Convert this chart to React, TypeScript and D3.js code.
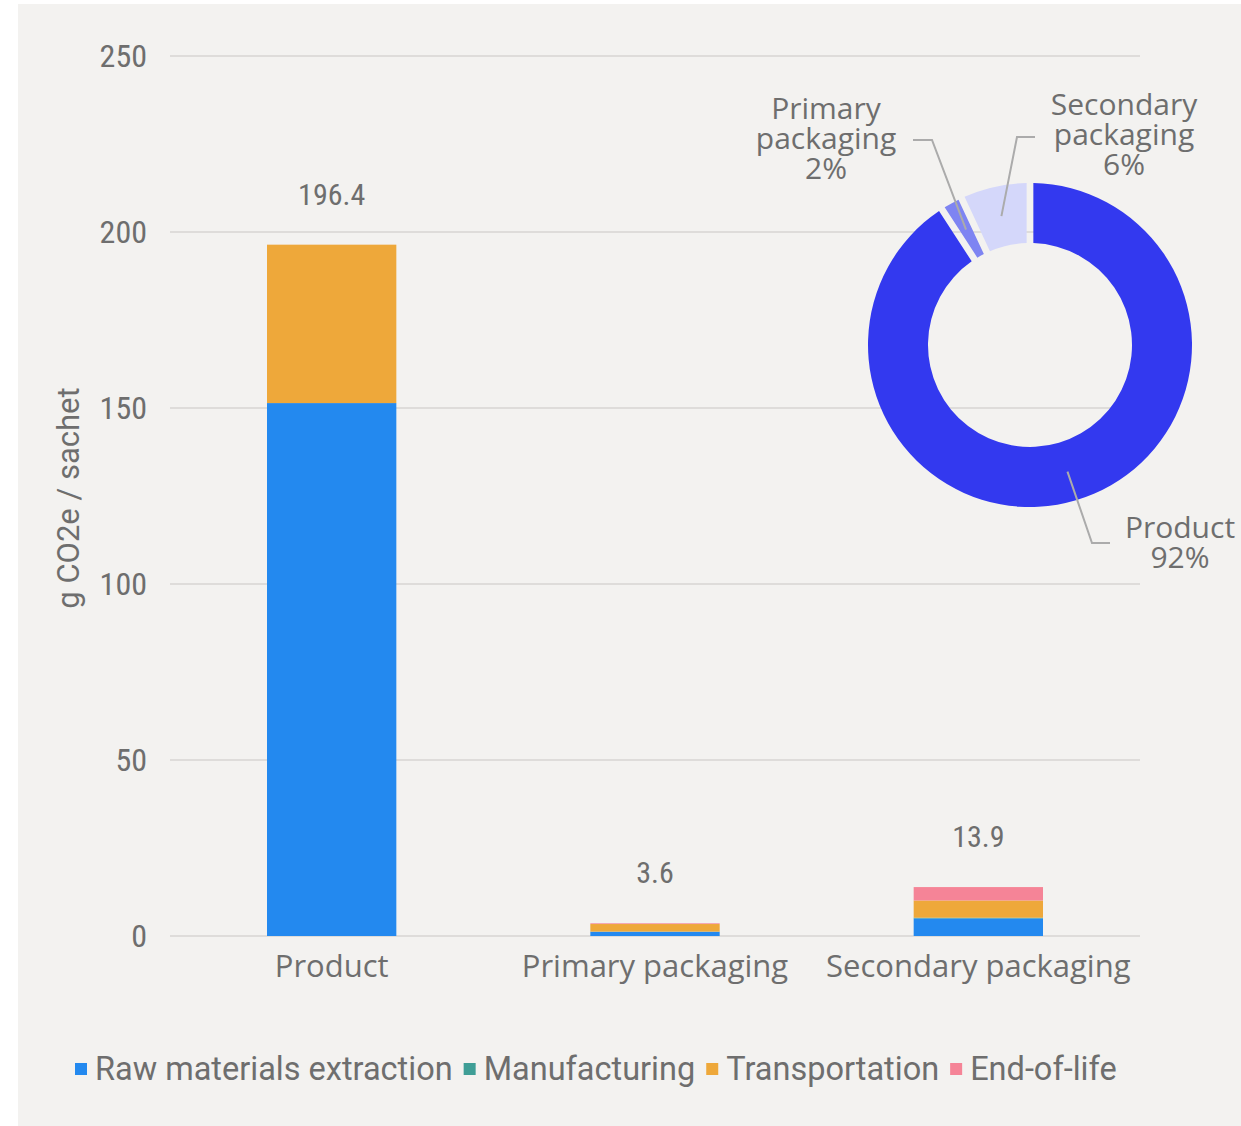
import React, { useEffect, useRef } from "react";
import * as d3 from "d3";

const categories = ["Product", "Primary packaging", "Secondary packaging"];
const stages = ["Raw materials extraction", "Manufacturing", "Transportation", "End-of-life"];
const rawMaterials = [151.4, 1.2, 5.0];
const manufacturing = [0, 0.05, 0.2];
const transportation = [45.0, 2.15, 4.9];
const endOfLife = [0, 0.2, 3.8];
const totals = [196.4, 3.6, 13.9];
const yTicks = [0, 50, 100, 150, 200, 250];
const donutLabels = [["Product"], ["Primary", "packaging"], ["Secondary", "packaging"]];

const stageColors = ["#2389EF", "#3F9E96", "#EEA83A", "#F58497"];
const donutColors = ["#3339EF", "#7E84F2", "#D4D7FA"];
const BG = "#F3F2F0";
const TEXT = "#6E6E6E";
const NARROW = "'Roboto Condensed', 'Liberation Sans Narrow', 'Arial Narrow', Roboto, sans-serif";
const GEO = "'Open Sans', Lato, sans-serif";

export default function App() {
  const ref = useRef<SVGSVGElement>(null);
  useEffect(() => {
    const svg = d3.select(ref.current);
    svg.selectAll("*").remove();
    const W = 1241, H = 1126;
    svg.append("rect").attr("x", 0).attr("y", 0).attr("width", W).attr("height", H).attr("fill", "#ffffff");
    svg.append("rect").attr("x", 18).attr("y", 4).attr("width", W - 18).attr("height", H - 4).attr("fill", BG);

    const x = d3.scaleBand().domain(categories).range([170, 1140]).paddingInner(0.6).paddingOuter(0.3);
    const y = d3.scaleLinear().domain([0, 250]).range([936, 56]);

    // grid
    const g = svg.append("g");
    g.selectAll("line.grid").data(yTicks).join("line")
      .attr("x1", 170).attr("x2", 1140)
      .attr("y1", (d) => y(d)).attr("y2", (d) => y(d))
      .attr("stroke", "#DEDCDA").attr("stroke-width", 2);
    g.selectAll("text.tick").data(yTicks).join("text")
      .attr("x", 147).attr("y", (d) => y(d))
      .attr("text-anchor", "end").attr("dominant-baseline", "central")
      .attr("font-family", NARROW).attr("font-size", 32).attr("fill", TEXT)
      .text((d) => String(d));

    // axis title
    svg.append("text")
      .attr("transform", `translate(79,${y(125) + 2}) rotate(-90)`)
      .attr("text-anchor", "middle")
      .attr("font-family", "Roboto, sans-serif").attr("font-size", 31).attr("fill", TEXT)
      .text("g CO2e / sachet");

    // stacked bars
    const rows = categories.map((c, i) => ({
      cat: c,
      [stages[0]]: rawMaterials[i],
      [stages[1]]: manufacturing[i],
      [stages[2]]: transportation[i],
      [stages[3]]: endOfLife[i],
    }));
    const stack = d3.stack<any>().keys(stages)(rows);
    stack.forEach((layer, li) => {
      svg.append("g").selectAll("rect").data(layer).join("rect")
        .attr("x", (d: any) => x(d.data.cat)!)
        .attr("width", x.bandwidth())
        .attr("y", (d: any) => y(d[1]))
        .attr("height", (d: any) => Math.max(0, y(d[0]) - y(d[1])))
        .attr("fill", stageColors[li]);
    });

    // totals labels
    svg.append("g").selectAll("text").data(totals).join("text")
      .attr("x", (d, i) => x(categories[i])! + x.bandwidth() / 2)
      .attr("y", (d) => y(d) - 40)
      .attr("text-anchor", "middle")
      .attr("font-family", NARROW).attr("font-size", 30).attr("fill", TEXT)
      .text((d) => d.toFixed(1));

    // category labels
    svg.append("g").selectAll("text").data(categories).join("text")
      .attr("x", (d) => x(d)! + x.bandwidth() / 2)
      .attr("y", 977)
      .attr("text-anchor", "middle")
      .attr("font-family", GEO).attr("font-size", 31).attr("fill", TEXT)
      .text((d) => d);

    // legend
    const leg = svg.append("g");
    let lx = 75;
    stages.forEach((s, i) => {
      leg.append("rect").attr("x", lx).attr("y", 1063).attr("width", 12).attr("height", 12).attr("fill", stageColors[i]);
      const t = leg.append("text").attr("x", lx + 20).attr("y", 1069)
        .attr("dominant-baseline", "central")
        .attr("font-family", "Roboto, sans-serif").attr("font-size", 32.5).attr("fill", TEXT)
        .text(s);
      const w = (t.node() as SVGTextElement).getComputedTextLength();
      lx = lx + 20 + w + 11;
    });

    // donut
    const cx = 1030, cy = 345, rO = 162, rI = 102;
    const pie = d3.pie<number>().sort(null).value((d) => d).padAngle(0.035);
    const arcs = pie(totals);
    const arc = d3.arc<d3.PieArcDatum<number>>().innerRadius(rI).outerRadius(rO);
    const dg = svg.append("g").attr("transform", `translate(${cx},${cy})`);
    dg.selectAll("path").data(arcs).join("path")
      .attr("d", arc as any).attr("fill", (d, i) => donutColors[i]);

    const sum = d3.sum(totals);
    const labelPos = [
      { tx: 150, ty: 193, ex1: 80, ex2: 62, ey: 198 },
      { tx: -204, ty: -226, ex1: -117, ex2: -98, ey: -205 },
      { tx: 94, ty: -230, ex1: 5, ex2: -13, ey: -208 },
    ];
    arcs.forEach((a, i) => {
      const [mx, my] = arc.centroid(a);
      const p = labelPos[i];
      dg.append("polyline")
        .attr("points", `${p.ex1},${p.ey} ${p.ex2},${p.ey} ${mx},${my}`)
        .attr("fill", "none").attr("stroke", "#ABABAB").attr("stroke-width", 2);
      const lines = [...donutLabels[i], `${Math.round((totals[i] / sum) * 100)}%`];
      const t = dg.append("text").attr("text-anchor", "middle")
        .attr("font-family", GEO).attr("font-size", 30).attr("fill", TEXT);
      lines.forEach((ln, k) => {
        t.append("tspan").attr("x", p.tx).attr("y", p.ty + k * 30).text(ln);
      });
    });
  }, []);
  return (
    <svg ref={ref} width={1241} height={1126}
      style={{ position: "absolute", left: 0, top: 0, display: "block" }} />
  );
}
